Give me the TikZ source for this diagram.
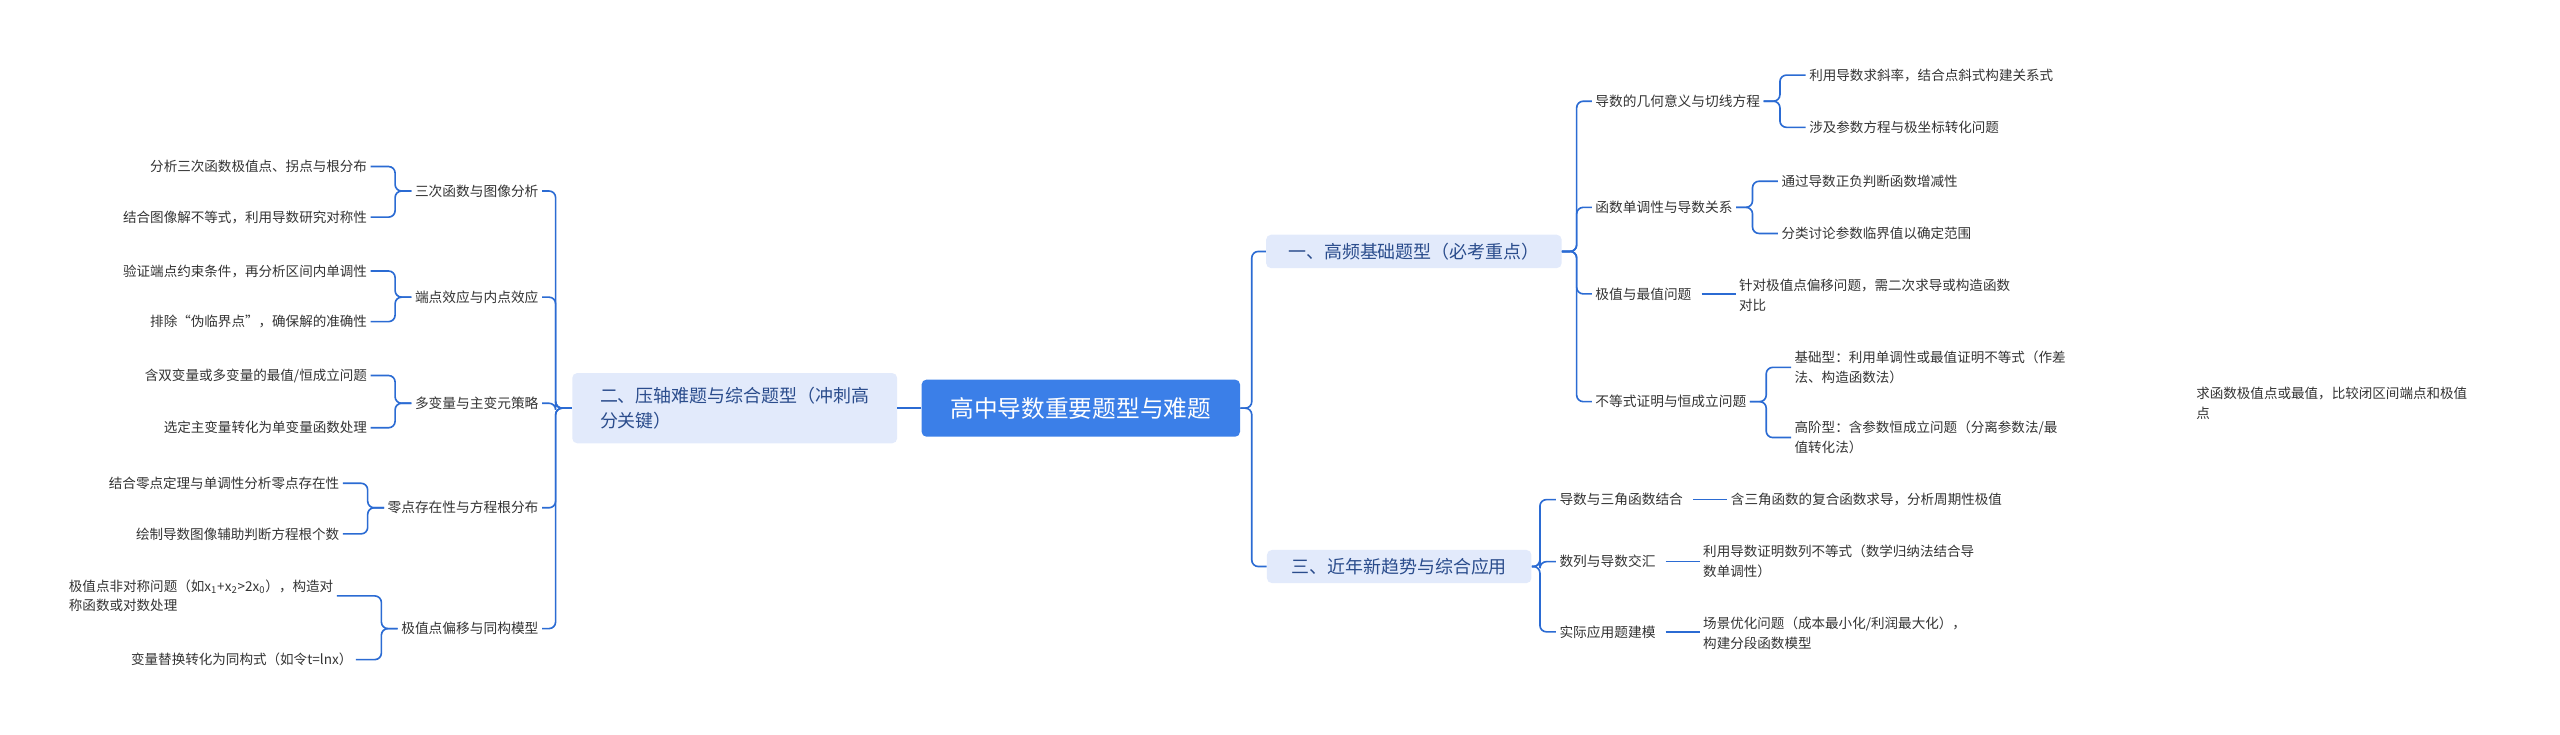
\documentclass[tikz,border=0pt]{standalone}
\usepackage{fontspec}
\setmainfont{Noto Sans CJK SC}
\definecolor{ln}{HTML}{2B6BD3}
\definecolor{tx}{HTML}{333333}
\definecolor{l1f}{HTML}{E2EAFB}
\definecolor{l1t}{HTML}{2A4C8C}
\definecolor{rootf}{HTML}{3B7FE8}
\tikzset{
 rootbox/.style={fill=rootf,text=white,rounded corners=3pt,minimum width=195pt,minimum height=35pt,font=\fontsize{14.5}{17}\selectfont},
 lonebox/.style={fill=l1f,text=l1t,rounded corners=3pt,inner xsep=10pt,inner ysep=5pt,font=\fontsize{11}{15}\selectfont,align=left},
 ltwo/.style={text=tx,inner sep=2pt,font=\fontsize{8.4}{10}\selectfont},
 lthree/.style={text=tx,inner sep=2pt,font=\fontsize{8.3}{12}\selectfont,align=left},
 conn/.style={draw=ln,line width=1pt,rounded corners=4pt},
}
\begin{document}
\begin{tikzpicture}[x=1pt,y=-1pt]
\useasboundingbox (0,0) rectangle (1568,450);
\node[rootbox] (root) at (662,250) {高中导数重要题型与难题};
\node[lonebox,minimum width=181pt] (A) at (866,154) {一、高频基础题型（必考重点）};
\node[lonebox,minimum width=162pt] (C) at (857,347) {三、近年新趋势与综合应用};
\node[lonebox,minimum width=199pt,minimum height=43pt] (B) at (450,250) {二、压轴难题与综合题型（冲刺高\\分关键）};
\draw[conn] (root.east) -- ++(7,0) |- (A.west);
\draw[conn] (root.east) -- ++(7,0) |- (C.west);
\draw[conn] (root.west) -- (B.east);
% right A
\node[ltwo,anchor=west] (A1) at (975,62) {导数的几何意义与切线方程};
\node[ltwo,anchor=west] (A2) at (975,127) {函数单调性与导数关系};
\node[ltwo,anchor=west] (A3) at (975,180) {极值与最值问题};
\node[ltwo,anchor=west] (A4) at (975,246) {不等式证明与恒成立问题};
\foreach \n in {A1,A2,A3,A4} \draw[conn] (A.east) -- ++(9,0) |- (\n.west);
\node[lthree,anchor=west] (A11) at (1106,46) {利用导数求斜率，结合点斜式构建关系式};
\node[lthree,anchor=west] (A12) at (1106,78) {涉及参数方程与极坐标转化问题};
\node[lthree,anchor=west] (A21) at (1089,111) {通过导数正负判断函数增减性};
\node[lthree,anchor=west] (A22) at (1089,143) {分类讨论参数临界值以确定范围};
\node[lthree,anchor=west] (A31) at (1063,181) {针对极值点偏移问题，需二次求导或构造函数\\对比};
\node[lthree,anchor=west] (A41) at (1097,225) {基础型：利用单调性或最值证明不等式（作差\\法、构造函数法）};
\node[lthree,anchor=west] (A42) at (1097,268) {高阶型：含参数恒成立问题（分离参数法/最\\值转化法）};
\foreach \p/\c in {A1/A11,A1/A12,A2/A21,A2/A22,A4/A41,A4/A42} \draw[conn] (\p.east) -- ++(10,0) |- (\c.west);
\draw[conn] (A3.east) ++(4,0) -- (A31.west |- A3.east);
\node[lthree,anchor=west] (F) at (1343,247) {求函数极值点或最值，比较闭区间端点和极值\\点};
% right C
\node[ltwo,anchor=west] (C1) at (953,306) {导数与三角函数结合};
\node[ltwo,anchor=west] (C2) at (953,344) {数列与导数交汇};
\node[ltwo,anchor=west] (C3) at (953,387) {实际应用题建模};
\foreach \n in {C1,C2,C3} \draw[conn] (C.east) -- ++(5,0) |- (\n.west);
\node[lthree,anchor=west] (C11) at (1058,306) {含三角函数的复合函数求导，分析周期性极值};
\node[lthree,anchor=west] (C21) at (1041,344) {利用导数证明数列不等式（数学归纳法结合导\\数单调性）};
\node[lthree,anchor=west] (C31) at (1041,388) {场景优化问题（成本最小化/利润最大化），\\构建分段函数模型};
\draw[conn] (C1.east) ++(4,0) -- (C11.west |- C1.east);
\draw[conn] (C2.east) ++(4,0) -- (C21.west |- C2.east);
\draw[conn] (C3.east) ++(4,0) -- (C31.west |- C3.east);
% left B
\node[ltwo,anchor=east] (B1) at (332,117) {三次函数与图像分析};
\node[ltwo,anchor=east] (B2) at (332,182) {端点效应与内点效应};
\node[ltwo,anchor=east] (B3) at (332,247) {多变量与主变元策略};
\node[ltwo,anchor=east] (B4) at (332,311) {零点存在性与方程根分布};
\node[ltwo,anchor=east] (B5) at (332,385) {极值点偏移与同构模型};
\foreach \n in {B1,B2,B3,B4,B5} \draw[conn] (B.west) -- ++(-10,0) |- (\n.east);
\node[lthree,anchor=east] (B11) at (227,102) {分析三次函数极值点、拐点与根分布};
\node[lthree,anchor=east] (B12) at (227,133) {结合图像解不等式，利用导数研究对称性};
\node[lthree,anchor=east] (B21) at (227,166) {验证端点约束条件，再分析区间内单调性};
\node[lthree,anchor=east] (B22) at (227,197) {排除“伪临界点”，确保解的准确性};
\node[lthree,anchor=east] (B31) at (227,230) {含双变量或多变量的最值/恒成立问题};
\node[lthree,anchor=east] (B32) at (227,262) {选定主变量转化为单变量函数处理};
\node[lthree,anchor=east] (B41) at (210,296) {结合零点定理与单调性分析零点存在性};
\node[lthree,anchor=east] (B42) at (210,327) {绘制导数图像辅助判断方程根个数};
\node[lthree,anchor=west] (B51) at (40,365) {极值点非对称问题（如x\textsubscript{1}+x\textsubscript{2}>2x\textsubscript{0}），构造对\\称函数或对数处理};
\node[lthree,anchor=east] (B52) at (218,404) {变量替换转化为同构式（如令t=lnx）};
\foreach \p/\c in {B1/B11,B1/B12,B2/B21,B2/B22,B3/B31,B3/B32,B4/B41,B4/B42,B5/B51,B5/B52} \draw[conn] (\p.west) -- ++(-10,0) |- (\c.east);
\end{tikzpicture}
\end{document}
